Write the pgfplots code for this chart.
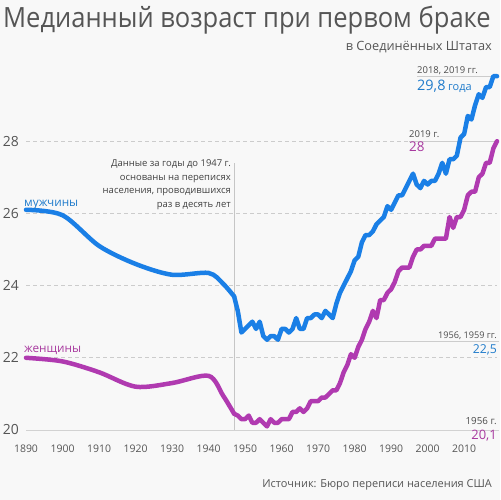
\documentclass[border=0pt]{standalone}
\usepackage{pgfplots}
\pgfplotsset{compat=1.18}
\usepackage{fontspec}
\setmainfont{Open Sans}
\definecolor{menblue}{HTML}{1A7FE6}
\definecolor{womenpink}{HTML}{B03AB0}
\definecolor{labelblue}{HTML}{1F7BCB}
\definecolor{labelpink}{HTML}{A8399F}
\definecolor{txt}{HTML}{555555}
\definecolor{bg}{HTML}{F8F8F8}
\definecolor{gridc}{HTML}{CCCCCC}

% decennial census years, interpolated smoothly
\pgfplotstableread{
year men women
1890 26.1 22.0
1900 25.95 21.9
1910 25.1 21.6
1920 24.6 21.2
1930 24.3 21.3
1940 24.35 21.5
1944 24.05 20.95
1947 23.7 20.45
}\census

% annual estimates from 1947 on
\pgfplotstableread{
year men women
1947 23.7 20.45
1948 23.3 20.4
1949 22.7 20.3
1950 22.8 20.3
1951 22.9 20.4
1952 23.0 20.2
1953 22.8 20.2
1954 23.0 20.3
1955 22.6 20.2
1956 22.5 20.1
1957 22.6 20.3
1958 22.6 20.2
1959 22.5 20.2
1960 22.8 20.3
1961 22.8 20.3
1962 22.7 20.3
1963 22.8 20.5
1964 23.1 20.5
1965 22.8 20.6
1966 22.8 20.5
1967 23.1 20.6
1968 23.1 20.8
1969 23.2 20.8
1970 23.2 20.8
1971 23.1 20.9
1972 23.3 20.9
1973 23.2 21.0
1974 23.1 21.1
1975 23.5 21.1
1976 23.8 21.3
1977 24.0 21.6
1978 24.2 21.8
1979 24.4 22.1
1980 24.7 22.0
1981 24.8 22.3
1982 25.2 22.5
1983 25.4 22.8
1984 25.4 23.0
1985 25.5 23.3
1986 25.7 23.1
1987 25.8 23.6
1988 25.9 23.6
1989 26.2 23.8
1990 26.1 23.9
1991 26.3 24.1
1992 26.5 24.4
1993 26.5 24.5
1994 26.7 24.5
1995 26.9 24.5
1996 27.1 24.8
1997 26.8 25.0
1998 26.7 25.0
1999 26.9 25.1
2000 26.8 25.1
2001 26.9 25.1
2002 26.9 25.3
2003 27.1 25.3
2004 27.4 25.3
2005 27.1 25.3
2006 27.5 25.9
2007 27.5 25.6
2008 27.6 25.9
2009 28.1 25.9
2010 28.2 26.1
2011 28.7 26.5
2012 28.6 26.6
2013 29.0 26.6
2014 29.3 27.0
2015 29.2 27.1
2016 29.5 27.4
2017 29.5 27.4
2018 29.8 27.8
2019 29.8 28.0
}\annual

\begin{document}
\begin{tikzpicture}[x=1bp,y=1bp]
\fill[bg] (0,0) rectangle (500,500);
\useasboundingbox (0,0) rectangle (500,500);

\begin{axis}[
  at={(26bp,70bp)}, anchor=south west,
  scale only axis, width=471bp, height=361bp,
  xmin=1890, xmax=2019, ymin=20, ymax=30,
  clip=false,
  axis line style={draw=none},
  xtick={1890,1900,...,2010}, ytick={20,22,24,26,28},
  major tick length=0pt,
  ymajorgrids,
  grid style={gridc, dash pattern=on 4bp off 3bp, line width=0.8bp},
  xticklabel style={font=\fontsize{10.5}{12}\selectfont, text=txt, anchor=base, inner sep=0pt, yshift=-23bp},
  yticklabel style={font=\fontsize{14}{16}\selectfont, text=txt, anchor=east, inner sep=0pt, xshift=-7bp},
  /pgf/number format/1000 sep={},
  /pgf/number format/assume math mode=true,
]
% reference lines
\draw[gray!35, line width=0.8bp] (axis cs:1890,20) -- (axis cs:2019.5,20);
\draw[gray!45, line width=0.7bp] (axis cs:1947,20) -- (axis cs:1947,27.4);
\draw[gray!40, line width=0.8bp] (axis cs:1956,22.45) -- (axis cs:2019.5,22.45);
\draw[gray!40, line width=0.8bp] (axis cs:1994.9,28) -- (axis cs:2019.5,28);
\draw[gray!40, line width=0.8bp] (axis cs:1997.1,29.8) -- (axis cs:2018,29.8);

\addplot[womenpink, line width=4.5bp, smooth, tension=0.5, line cap=round] table[x=year, y=women] {\census};
\addplot[womenpink, line width=4.5bp, line join=round, line cap=round] table[x=year, y=women] {\annual};
\addplot[menblue, line width=4.5bp, smooth, tension=0.5, line cap=round] table[x=year, y=men] {\census};
\addplot[menblue, line width=4.5bp, line join=round, line cap=round] table[x=year, y=men] {\annual};
\end{axis}

% title block
\node[anchor=base west, inner sep=0pt, text=txt, font=\fontsize{28}{30}\selectfont] at (3,472) {\scalebox{0.915}[1]{Медианный возраст при первом браке}};
\node[anchor=base east, inner sep=0pt, text=txt, font=\fontsize{12.8}{14}\selectfont] at (492,449) {в Соединённых Штатах};

% series names
\node[anchor=base west, inner sep=0pt, text=labelblue, font=\fontsize{11.8}{13}\selectfont] at (24,293) {мужчины};
\node[anchor=base west, inner sep=0pt, text=labelpink, font=\fontsize{11.8}{13}\selectfont] at (24,147) {женщины};

% note on pre-1947 data
\begin{scope}[every node/.style={anchor=base east, inner sep=0pt, text=black!75, font=\fontsize{9.5}{11}\selectfont}]
\node at (231,333) {Данные за годы до 1947 г.};
\node at (231,319.5) {основаны на переписях};
\node at (231,306) {населения, проводившихся};
\node at (231,292.5) {раз в десять лет};
\end{scope}

% value callouts
\node[anchor=base west, inner sep=0pt, text=black!70, font=\fontsize{9.5}{11}\selectfont] at (417,426) {2018, 2019 гг.};
\node[anchor=base west, inner sep=0pt, text=labelblue] at (417,409) {{\fontsize{14.5}{16}\selectfont 29,8} {\fontsize{11}{12}\selectfont года}};
\node[anchor=base west, inner sep=0pt, text=black!70, font=\fontsize{9.5}{11}\selectfont] at (409,362) {2019 г.};
\node[anchor=base west, inner sep=0pt, text=labelpink, font=\fontsize{13.5}{15}\selectfont] at (409,348) {28};
\node[anchor=base east, inner sep=0pt, text=black!70, font=\fontsize{9.2}{11}\selectfont] at (497,161) {1956, 1959 гг.};
\node[anchor=base east, inner sep=0pt, text=labelblue, font=\fontsize{12.3}{14}\selectfont] at (497,146) {22,5};
\node[anchor=base east, inner sep=0pt, text=black!70, font=\fontsize{9.8}{12}\selectfont] at (497,75) {1956 г.};
\node[anchor=base east, inner sep=0pt, text=labelpink, font=\fontsize{13}{15}\selectfont] at (497,60) {20,1};

% source
\node[anchor=base east, inner sep=0pt, text=txt, font=\fontsize{11}{13}\selectfont] at (492,12) {Источник: Бюро переписи населения США};
\end{tikzpicture}
\end{document}
